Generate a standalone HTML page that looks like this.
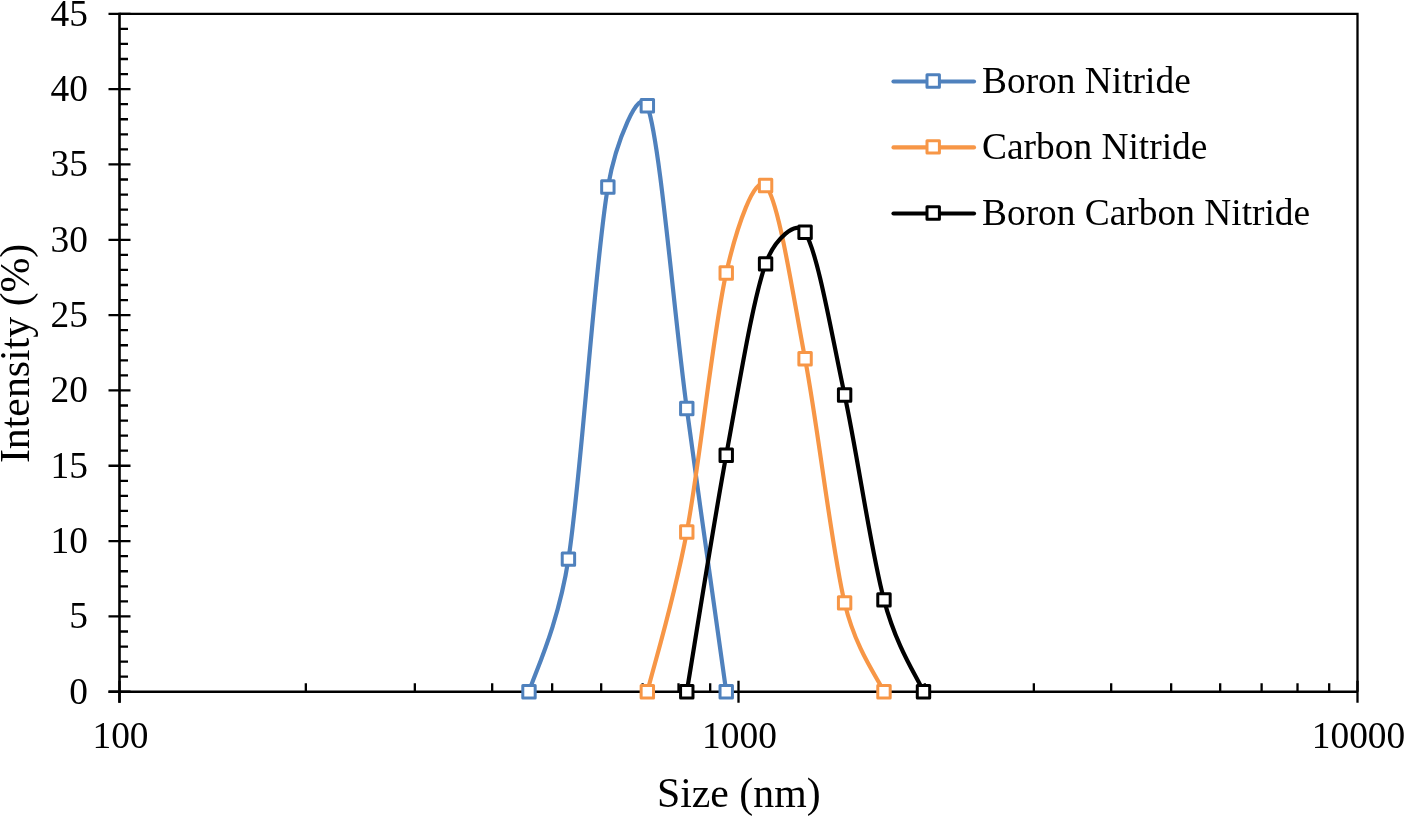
<!DOCTYPE html>
<html><head><meta charset="utf-8"><style>
html,body{margin:0;padding:0;background:#fff;width:1404px;height:816px;overflow:hidden}
svg{display:block;will-change:transform}
text{font-family:"Liberation Serif",serif;fill:#000}
</style></head><body>
<svg width="1404" height="816" viewBox="0 0 1404 816">

<path d="M119.5,13.8 H1357.5 V691.75" fill="none" stroke="#000" stroke-width="2.3"/>
<path d="M108.5,691.75H130.5M119.5,676.68H128.0M119.5,661.62H128.0M119.5,646.55H128.0M119.5,631.49H128.0M108.5,616.42H130.5M119.5,601.36H128.0M119.5,586.29H128.0M119.5,571.23H128.0M119.5,556.16H128.0M108.5,541.09H130.5M119.5,526.03H128.0M119.5,510.96H128.0M119.5,495.90H128.0M119.5,480.83H128.0M108.5,465.77H130.5M119.5,450.70H128.0M119.5,435.64H128.0M119.5,420.57H128.0M119.5,405.50H128.0M108.5,390.44H130.5M119.5,375.37H128.0M119.5,360.31H128.0M119.5,345.24H128.0M119.5,330.18H128.0M108.5,315.11H130.5M119.5,300.05H128.0M119.5,284.98H128.0M119.5,269.91H128.0M119.5,254.85H128.0M108.5,239.78H130.5M119.5,224.72H128.0M119.5,209.65H128.0M119.5,194.59H128.0M119.5,179.52H128.0M108.5,164.46H130.5M119.5,149.39H128.0M119.5,134.32H128.0M119.5,119.26H128.0M119.5,104.19H128.0M108.5,89.13H130.5M119.5,74.06H128.0M119.5,59.00H128.0M119.5,43.93H128.0M119.5,28.87H128.0M108.5,13.80H130.5M305.84,691.75V683.25M414.84,691.75V683.25M492.18,691.75V683.25M552.16,691.75V683.25M601.18,691.75V683.25M642.62,691.75V683.25M678.51,691.75V683.25M710.18,691.75V683.25M924.84,691.75V683.25M1033.84,691.75V683.25M1111.18,691.75V683.25M1171.16,691.75V683.25M1220.18,691.75V683.25M1261.62,691.75V683.25M1297.51,691.75V683.25M1329.18,691.75V683.25M119.50,680.75V702.75M738.50,680.75V702.75M1357.50,680.75V702.75" fill="none" stroke="#000" stroke-width="2.3"/>
<path d="M119.5,12.8V702.75" stroke="#000" stroke-width="2.6"/>
<path d="M108.5,691.75H1357.5" stroke="#000" stroke-width="2.3"/>
<text x="88" y="703.55" font-size="37.4" text-anchor="end">0</text>
<text x="88" y="628.22" font-size="37.4" text-anchor="end">5</text>
<text x="88" y="552.89" font-size="37.4" text-anchor="end">10</text>
<text x="88" y="477.57" font-size="37.4" text-anchor="end">15</text>
<text x="88" y="402.24" font-size="37.4" text-anchor="end">20</text>
<text x="88" y="326.91" font-size="37.4" text-anchor="end">25</text>
<text x="88" y="251.58" font-size="37.4" text-anchor="end">30</text>
<text x="88" y="176.26" font-size="37.4" text-anchor="end">35</text>
<text x="88" y="100.93" font-size="37.4" text-anchor="end">40</text>
<text x="88" y="25.60" font-size="37.4" text-anchor="end">45</text>
<text x="120.50" y="747.7" font-size="37.4" text-anchor="middle">100</text>
<text x="739.50" y="747.7" font-size="37.4" text-anchor="middle">1000</text>
<text x="1358.50" y="747.7" font-size="37.4" text-anchor="middle">10000</text>
<text x="738.8" y="807.3" font-size="41.8" text-anchor="middle">Size (nm)</text>
<text transform="translate(29,353.4) rotate(-90)" x="0" y="0" font-size="41.8" text-anchor="middle">Intensity (%)</text>
<path d="M528.99,691.75 C534.33,673.80 557.76,627.50 568.43,559.17 C581.58,475.06 594.71,262.63 607.86,187.05 C615.61,142.51 639.58,83.95 647.34,105.70 C660.49,142.61 673.64,310.84 686.78,408.52 C699.93,506.19 719.66,644.54 726.23,691.75" fill="none" stroke="#4F81BD" stroke-width="4.2" stroke-linejoin="round" stroke-linecap="round"/>
<path d="M647.34,691.75 C653.91,665.13 673.64,601.86 686.78,532.06 C699.93,462.25 713.10,330.68 726.23,272.93 C736.86,226.20 754.95,173.97 765.58,185.55 C778.72,199.86 791.90,289.25 805.07,358.80 C818.25,428.35 831.47,547.37 844.62,602.86 C855.83,650.16 878.39,679.12 883.98,691.75" fill="none" stroke="#F79646" stroke-width="4.2" stroke-linejoin="round" stroke-linecap="round"/>
<path d="M686.78,691.75 C693.36,652.33 713.10,526.53 726.23,455.22 C739.37,383.91 752.44,301.05 765.58,263.89 C774.02,240.04 796.62,218.23 805.07,232.25 C818.25,254.10 831.47,333.69 844.62,394.96 C857.77,456.23 870.83,550.38 883.98,599.85 C896.83,648.19 917.05,676.78 923.49,691.75" fill="none" stroke="#000" stroke-width="4.2" stroke-linejoin="round" stroke-linecap="round"/>
<rect x="522.79" y="685.55" width="12.4" height="12.4" fill="#fff" stroke="#4F81BD" stroke-width="3.0" stroke-linejoin="round"/><rect x="562.23" y="552.97" width="12.4" height="12.4" fill="#fff" stroke="#4F81BD" stroke-width="3.0" stroke-linejoin="round"/><rect x="601.66" y="180.85" width="12.4" height="12.4" fill="#fff" stroke="#4F81BD" stroke-width="3.0" stroke-linejoin="round"/><rect x="641.14" y="99.50" width="12.4" height="12.4" fill="#fff" stroke="#4F81BD" stroke-width="3.0" stroke-linejoin="round"/><rect x="680.58" y="402.32" width="12.4" height="12.4" fill="#fff" stroke="#4F81BD" stroke-width="3.0" stroke-linejoin="round"/><rect x="720.03" y="685.55" width="12.4" height="12.4" fill="#fff" stroke="#4F81BD" stroke-width="3.0" stroke-linejoin="round"/>
<rect x="641.14" y="685.55" width="12.4" height="12.4" fill="#fff" stroke="#F79646" stroke-width="3.0" stroke-linejoin="round"/><rect x="680.58" y="525.86" width="12.4" height="12.4" fill="#fff" stroke="#F79646" stroke-width="3.0" stroke-linejoin="round"/><rect x="720.03" y="266.73" width="12.4" height="12.4" fill="#fff" stroke="#F79646" stroke-width="3.0" stroke-linejoin="round"/><rect x="759.38" y="179.35" width="12.4" height="12.4" fill="#fff" stroke="#F79646" stroke-width="3.0" stroke-linejoin="round"/><rect x="798.87" y="352.60" width="12.4" height="12.4" fill="#fff" stroke="#F79646" stroke-width="3.0" stroke-linejoin="round"/><rect x="838.42" y="596.66" width="12.4" height="12.4" fill="#fff" stroke="#F79646" stroke-width="3.0" stroke-linejoin="round"/><rect x="877.78" y="685.55" width="12.4" height="12.4" fill="#fff" stroke="#F79646" stroke-width="3.0" stroke-linejoin="round"/>
<rect x="680.58" y="685.55" width="12.4" height="12.4" fill="#fff" stroke="#000" stroke-width="3.0" stroke-linejoin="round"/><rect x="720.03" y="449.02" width="12.4" height="12.4" fill="#fff" stroke="#000" stroke-width="3.0" stroke-linejoin="round"/><rect x="759.38" y="257.69" width="12.4" height="12.4" fill="#fff" stroke="#000" stroke-width="3.0" stroke-linejoin="round"/><rect x="798.87" y="226.05" width="12.4" height="12.4" fill="#fff" stroke="#000" stroke-width="3.0" stroke-linejoin="round"/><rect x="838.42" y="388.76" width="12.4" height="12.4" fill="#fff" stroke="#000" stroke-width="3.0" stroke-linejoin="round"/><rect x="877.78" y="593.65" width="12.4" height="12.4" fill="#fff" stroke="#000" stroke-width="3.0" stroke-linejoin="round"/><rect x="917.29" y="685.55" width="12.4" height="12.4" fill="#fff" stroke="#000" stroke-width="3.0" stroke-linejoin="round"/>
<path d="M893.5,81.5H974" stroke="#4F81BD" stroke-width="4.2" stroke-linecap="round"/>
<rect x="927.0" y="74.80" width="12.4" height="12.4" fill="#fff" stroke="#4F81BD" stroke-width="3.0" stroke-linejoin="round"/>
<text x="982" y="92.9" font-size="37.4">Boron Nitride</text>
<path d="M893.5,147.4H974" stroke="#F79646" stroke-width="4.2" stroke-linecap="round"/>
<rect x="927.0" y="140.70" width="12.4" height="12.4" fill="#fff" stroke="#F79646" stroke-width="3.0" stroke-linejoin="round"/>
<text x="982" y="158.8" font-size="37.4">Carbon Nitride</text>
<path d="M893.5,213.5H974" stroke="#000" stroke-width="4.2" stroke-linecap="round"/>
<rect x="927.0" y="206.80" width="12.4" height="12.4" fill="#fff" stroke="#000" stroke-width="3.0" stroke-linejoin="round"/>
<text x="982" y="224.9" font-size="37.4">Boron Carbon Nitride</text>
</svg></body></html>
